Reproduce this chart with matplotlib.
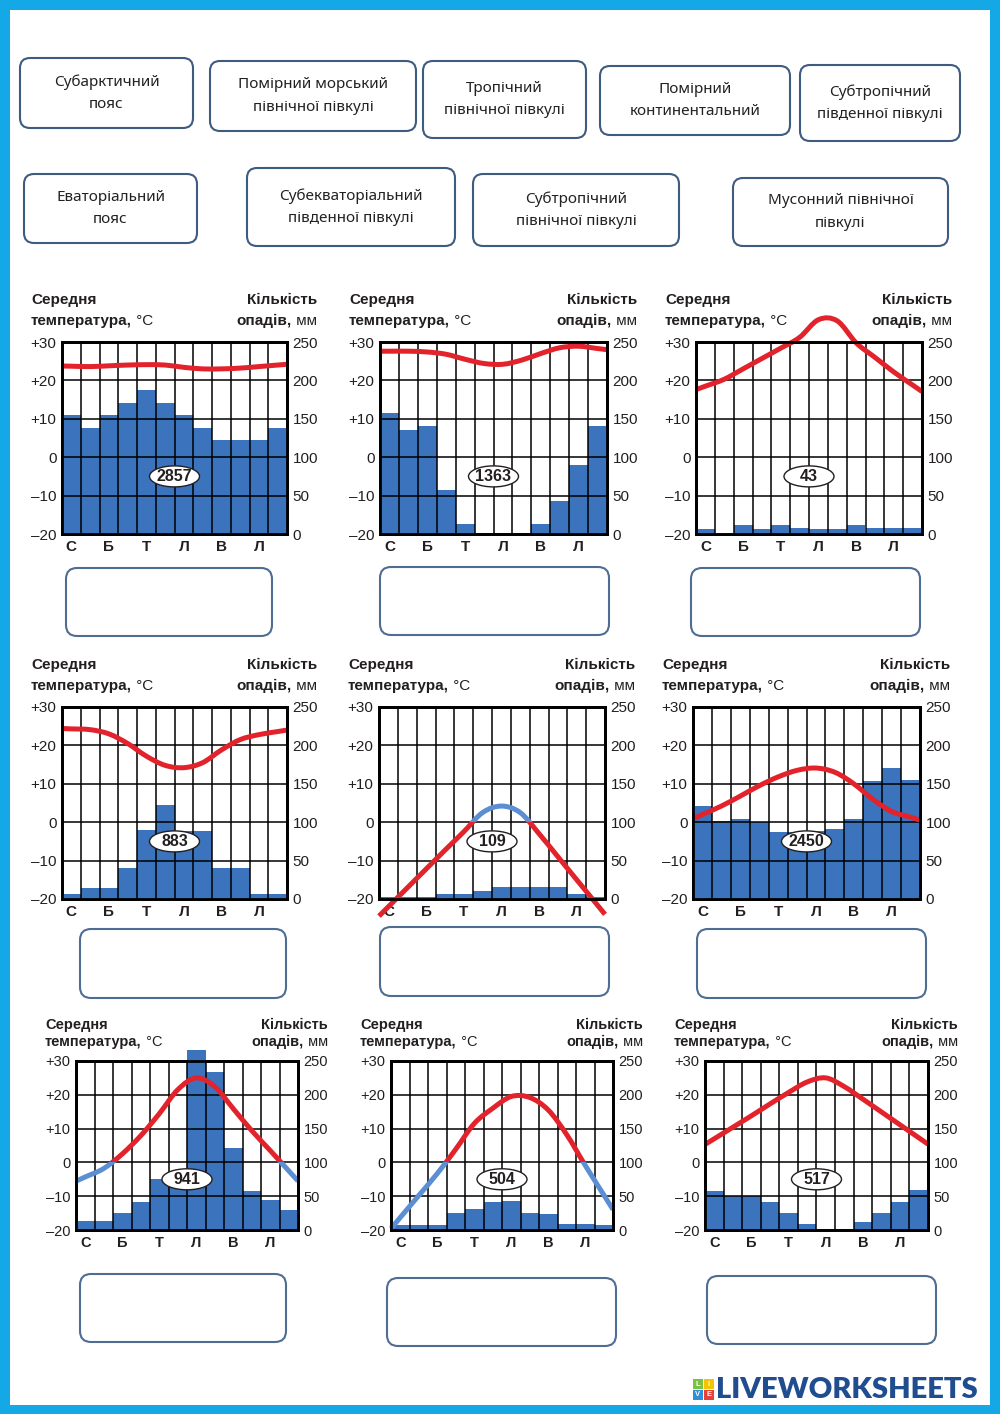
import numpy as np
import matplotlib
matplotlib.use("Agg")
import matplotlib.pyplot as plt
from matplotlib.patches import FancyBboxPatch, Ellipse, Rectangle, PathPatch
from matplotlib.path import Path

plt.rcParams["font.family"] = ["Liberation Sans", "DejaVu Sans"]

# zone names for the matching boxes
zones_top = ["Субарктичний\nпояс", "Помірний морський\nпівнічної півкулі",
             "Тропічний\nпівнічної півкулі", "Помірний\nконтинентальний",
             "Субтропічний\nпівденної півкулі"]
zones_bottom = ["Еваторіальний\nпояс", "Субекваторіальний\nпівденної півкулі",
                "Субтропічний\nпівнічної півкулі", "Мусонний північної\nпівкулі"]

month_labels = ["С", "Б", "Т", "Л", "В", "Л"]
temp_ticks = [-20, -10, 0, 10, 20, 30]
temp_tick_labels = ["–20", "–10", "0", "+10", "+20", "+30"]
precip_ticks = [0, 50, 100, 150, 200, 250]

totals = [2857, 1363, 43, 883, 109, 2450, 941, 504, 517]

# monthly precipitation, mm
precip_1 = [155, 138, 155, 170, 188, 170, 155, 138, 122, 122, 122, 138]
precip_2 = [158, 135, 141, 57, 13, 0, 0, 0, 13, 43, 90, 141]
precip_3 = [6, 1, 12, 6, 12, 8, 6.5, 6.5, 12, 8, 8, 8]
precip_4 = [6.5, 14, 14, 40, 90, 122, 88, 88, 40, 40, 6.5, 6.5]
precip_5 = [3, 3, 3, 7, 7, 10, 15, 15, 15, 15, 7, 3]
precip_6 = [121, 102, 104, 100, 87, 87, 89, 91, 104, 154, 170, 155]
precip_7 = [14, 14, 25, 42, 75, 64, 267, 234, 122, 58, 44, 29]
precip_8 = [7.5, 7.5, 7.5, 25, 31.5, 41, 42.5, 25, 23.5, 9, 9, 7.5]
precip_9 = [57.5, 50, 50, 42, 24.5, 8.5, 0, 0, 12, 24.5, 42, 59.5]

# monthly mean temperature, C
temp_1 = [23.7, 23.6, 23.8, 24.0, 24.1, 24.0, 23.4, 23.0, 23.0, 23.2, 23.6, 24.0]
temp_2 = [27.6, 27.6, 27.4, 26.8, 25.5, 24.4, 24.2, 25.3, 27.0, 28.5, 28.9, 28.3]
temp_3 = [18.5, 20.3, 23.0, 25.7, 28.4, 31.2, 35.8, 35.5, 29.8, 26.0, 22.2, 18.8]
temp_4 = [24.3, 24.1, 23.0, 20.5, 17.2, 14.8, 14.2, 15.5, 18.8, 21.5, 22.8, 23.6]
temp_5 = [-22.0, -17.1, -12.2, -7.3, -2.5, 2.5, 4.2, 2.5, -3.0, -9.0, -15.0, -21.0]
temp_6 = [2.0, 4.2, 6.8, 9.5, 11.8, 13.5, 14.1, 13.0, 10.0, 6.0, 2.8, 1.3]
temp_7 = [-4.3, -1.8, 2.5, 7.9, 14.4, 21.5, 25.0, 22.4, 15.9, 9.4, 3.5, -2.5]
temp_8 = [-16.3, -9.8, -3.3, 3.9, 11.5, 16.0, 19.5, 19.2, 15.5, 8.2, -0.9, -9.6]
temp_9 = [7.0, 10.4, 13.8, 17.3, 20.7, 23.8, 25.0, 22.4, 18.7, 14.9, 11.1, 7.3]

W, H = 1000, 1414
RED = "#e3232b"
LBLUE = "#5b8ed2"
BAR = "#3b73bd"
INK = "#231f20"

fig = plt.figure(figsize=(W / 100, H / 100), dpi=100)
fig.patch.set_facecolor("#14a9e6")

# overlay in pixel coords (y down)
ov = fig.add_axes([0, 0, 1, 1])
ov.set_xlim(0, W)
ov.set_ylim(H, 0)
ov.axis("off")
ov.add_patch(Rectangle((10, 10), 980, 1395, facecolor="white", edgecolor="none", zorder=0))

# zone boxes
top_boxes = [(20, 58, 193, 128), (210, 61, 416, 131), (423, 61, 586, 138),
             (600, 66, 790, 135), (800, 65, 960, 141)]
bottom_boxes = [(24, 174, 197, 243), (247, 168, 455, 246), (473, 174, 679, 246),
                (733, 178, 948, 246)]
for boxes, names in [(top_boxes, zones_top), (bottom_boxes, zones_bottom)]:
    for (x0, y0, x1, y1), name in zip(boxes, names):
        ov.add_patch(FancyBboxPatch((x0, y0), x1 - x0, y1 - y0,
                                    boxstyle="round,pad=0,rounding_size=10",
                                    facecolor="white", edgecolor="#3e5b80", lw=1.5))
        ov.text((x0 + x1) / 2, (y0 + y1) / 2, name, ha="center", va="center",
                fontsize=11, color="#222222", linespacing=1.65,
                family=["Noto Sans", "DejaVu Sans"])

# answer boxes below each chart
answer_boxes = [(66, 568, 272, 636), (380, 567, 609, 635), (691, 568, 920, 636),
                (80, 929, 286, 998), (380, 927, 609, 996), (697, 929, 926, 998),
                (80, 1274, 286, 1342), (387, 1278, 616, 1346), (707, 1276, 936, 1344)]
for x0, y0, x1, y1 in answer_boxes:
    ov.add_patch(FancyBboxPatch((x0, y0), x1 - x0, y1 - y0,
                                boxstyle="round,pad=0,rounding_size=11",
                                facecolor="white", edgecolor="#4f6d93", lw=1.5))

renderer = fig.canvas.get_renderer()


def header(x0, x1, top, gap1, gap2, fs):
    ov.text(x0, top - gap1, "Середня", ha="left", va="baseline", fontsize=fs,
            fontweight="bold", color=INK)
    t = ov.text(x0, top - gap2, "температура,", ha="left", va="baseline",
                fontsize=fs, fontweight="bold", color=INK)
    bb = t.get_window_extent(renderer)
    ov.text(bb.x1, top - gap2, " °С", ha="left", va="baseline", fontsize=fs, color=INK)
    ov.text(x1, top - gap1, "Кількість", ha="right", va="baseline", fontsize=fs,
            fontweight="bold", color=INK)
    m = ov.text(x1, top - gap2, " мм", ha="right", va="baseline", fontsize=fs, color=INK)
    bb = m.get_window_extent(renderer)
    ov.text(bb.x0, top - gap2, "опадів,", ha="right", va="baseline", fontsize=fs,
            fontweight="bold", color=INK)


def temp_line(ax2, tr, temps, warm, cold):
    # smooth curve through the monthly values (bezier path), ends pushed to the frame edges
    x = np.arange(12) + 0.5
    t = np.array(temps, float)
    x = np.concatenate([[0], x, [12]])
    t = np.concatenate([[t[0] - (t[1] - t[0]) / 2], t, [t[-1] + (t[-1] - t[-2]) / 2]])
    pts = np.column_stack([x, t])
    verts = [pts[0]]
    codes = [Path.MOVETO]
    n = len(pts)
    for i in range(n - 1):
        p0 = pts[max(i - 1, 0)]
        p1, p2 = pts[i], pts[i + 1]
        p3 = pts[min(i + 2, n - 1)]
        verts += [p1 + (p2 - p0) / 6, p2 - (p3 - p1) / 6, p2]
        codes += [Path.CURVE4] * 3
    path = Path(verts, codes)
    for col, y0 in [(warm, 0), (cold, -200)]:
        pp = PathPatch(path, facecolor="none", edgecolor=col, lw=3.6,
                       transform=tr, zorder=4, capstyle="butt")
        ax2.add_patch(pp)
        pp.set_clip_path(Rectangle((-5, y0), 22, 200, transform=tr))


def draw_chart(rect, precip, temps, total, warm, cold, row3):
    l, t, r, b = rect
    fs = 10.5 if row3 else 11
    ax = fig.add_axes([l / W, 1 - b / H, (r - l) / W, (b - t) / H])
    ax2 = ax.twinx()
    ax.set_facecolor("white")

    x = np.arange(12) + 0.5
    ax2.bar(x, precip, width=1.0, color=BAR, zorder=1, clip_on=False)
    for v in precip_ticks[1:-1]:
        ax2.axhline(v, color="black", lw=1.1, zorder=2)
    for m in range(1, 12):
        ax2.axvline(m, color="black", lw=1.1, zorder=2)

    temp_line(ax2, ax.transData, temps, warm, cold)

    ew = 50 / ((r - l) / 12)
    eh = 21 / ((b - t) / 50)
    ax2.add_patch(Ellipse((6, -5), ew, eh, transform=ax.transData, facecolor="white",
                          edgecolor=INK, lw=1.0, zorder=5))
    ax2.text(6, -5, str(total), transform=ax.transData, ha="center", va="center",
             fontsize=11.5, fontweight="bold", color=INK, zorder=6)

    ax.set_xlim(0, 12)
    ax.set_ylim(-20, 30)
    ax2.set_ylim(0, 250)
    ax.set_yticks(temp_ticks)
    ax.set_yticklabels(temp_tick_labels, fontsize=fs, color=INK)
    ax2.set_yticks(precip_ticks)
    ax2.set_yticklabels([str(v) for v in precip_ticks], fontsize=fs, color=INK)
    ax.set_xticks(np.arange(0.5, 12, 2))
    ax.set_xticklabels(month_labels, fontsize=fs, fontweight="bold", color=INK)
    ax.tick_params(length=0, pad=4)
    ax2.tick_params(length=0, pad=4)
    for a in (ax, ax2):
        for s in a.spines.values():
            s.set_linewidth(2.0)
            s.set_color("black")
            s.set_zorder(7)

    gap1, gap2 = (36, 19) if row3 else (42, 21)
    header(l - 31, r + 30, t + 4, gap1, gap2, fs)


chart_rects = [(62, 342, 287, 534), (380, 342, 607, 534), (696, 342, 922, 534),
               (62, 707, 287, 899), (379, 707, 605, 899), (693, 707, 920, 899),
               (76, 1061, 298, 1230), (391, 1061, 613, 1230), (705, 1061, 928, 1230)]
precips = [precip_1, precip_2, precip_3, precip_4, precip_5, precip_6,
           precip_7, precip_8, precip_9]
temps_all = [temp_1, temp_2, temp_3, temp_4, temp_5, temp_6, temp_7, temp_8, temp_9]
line_cols = [(RED, RED)] * 4 + [(LBLUE, RED), (RED, RED), (RED, LBLUE), (RED, LBLUE), (RED, RED)]

for i in range(9):
    draw_chart(chart_rects[i], precips[i], temps_all[i], totals[i],
               line_cols[i][0], line_cols[i][1], i >= 6)

# liveworksheets logo
icon = [("L", "#7cc242", 0, 0), ("I", "#f5c400", 1, 0), ("V", "#2f8fd8", 0, 1), ("E", "#e8413c", 1, 1)]
for ch, c, cx, cy in icon:
    ov.add_patch(Rectangle((693 + cx * 11, 1379 + cy * 11), 10, 10, facecolor=c,
                           edgecolor="none", zorder=3))
    ov.text(698 + cx * 11, 1384 + cy * 11, ch, ha="center", va="center", fontsize=5.5,
            color="white", fontweight="bold", zorder=4)
ov.text(716, 1390, "LIVEWORKSHEETS", ha="left", va="center", fontsize=21,
        fontweight="heavy", family=["Lato", "DejaVu Sans"], color="#1f4d8f")

fig.savefig("out.png", dpi=100, facecolor=fig.get_facecolor())
